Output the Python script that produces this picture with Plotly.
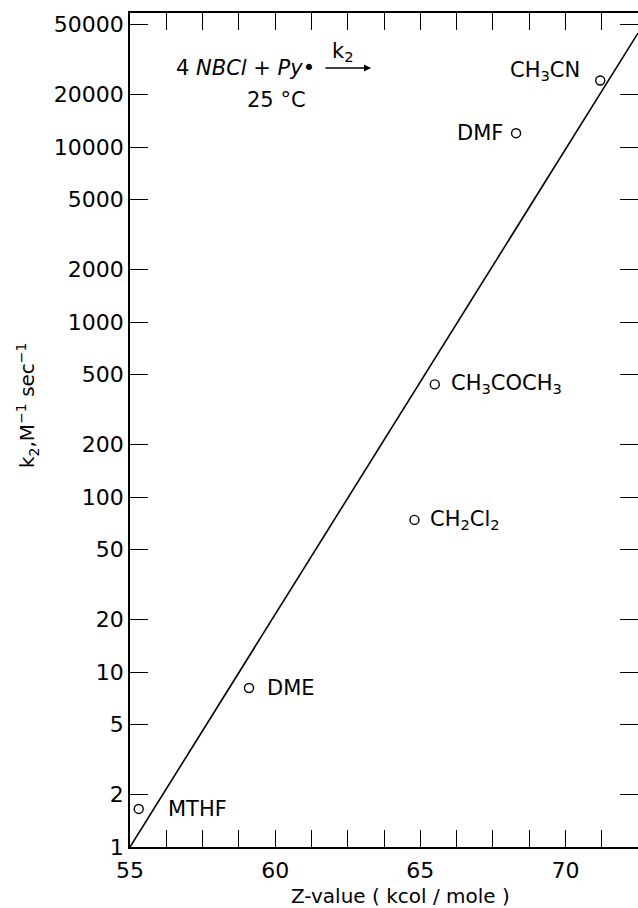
import plotly.graph_objects as go
import numpy as np

# Data
solvents = ["MTHF", "DME", "CH<sub>2</sub>Cl<sub>2</sub>", "CH<sub>3</sub>COCH<sub>3</sub>", "DMF", "CH<sub>3</sub>CN"]
z_values = [55.3, 59.1, 64.8, 65.5, 68.3, 71.2]
k2_values = [1.65, 8.1, 74, 440, 12000, 24000]

line_z = [55.0, 72.5]
line_k2 = [1.0, 44800]

y_ticks = [1, 2, 5, 10, 20, 50, 100, 200, 500, 1000, 2000, 5000, 10000, 20000, 50000]
y_labels = ["1", "2", "5", "10", "20", "50", "100", "200", "500", "1000", "2000", "5000", "10000", "20000", "50000"]
x_ticks = [55 + 1.25 * i for i in range(15)]
x_labels = ["55", "60", "65", "70"]

FONT = "DejaVu Sans"
L, R, T, B, W, H = 130, 0, 13, 61, 638, 908
PW, PH = W - L - R, H - T - B


def px(x):
    return (x - L) / PW


def py(y):
    return (H - B - y) / PH


fig = go.Figure()
fig.add_trace(go.Scatter(x=line_z, y=line_k2, mode="lines",
                         line=dict(color="black", width=1.6), showlegend=False, hoverinfo="skip"))
fig.add_trace(go.Scatter(x=z_values, y=k2_values, mode="markers",
                         marker=dict(symbol="circle-open", size=9, color="black", line=dict(width=1.4)),
                         showlegend=False))

# labels next to points: (index, x-offset px, y-offset px, anchor)
label_pos = [
    (0, 27, 0, "left"),
    (1, 16, 0, "left"),
    (2, 14, 0, "left"),
    (3, 14, 0, "left"),
    (4, -11, 0, "right"),
    (5, -18, 10, "right"),
]
for i, dx, dy, anc in label_pos:
    fig.add_annotation(x=z_values[i], y=np.log10(k2_values[i]), text=solvents[i],
                       xshift=dx, yshift=dy, xanchor=anc, yanchor="middle", showarrow=False,
                       font=dict(family=FONT, size=21, color="black"))

# reaction annotation
fig.add_annotation(xref="paper", yref="paper", x=px(174), y=py(68),
                   text="4 <i>NBCl + Py</i>•", xanchor="left", yanchor="middle", showarrow=False,
                   font=dict(family=FONT, size=21, color="black"))
fig.add_annotation(xref="paper", yref="paper", x=px(276), y=py(100),
                   text="25 °C", xanchor="center", yanchor="middle", showarrow=False,
                   font=dict(family=FONT, size=21, color="black"))
fig.add_annotation(xref="paper", yref="paper", axref="pixel", ayref="pixel",
                   x=px(371), y=py(68), ax=-47, ay=0,
                   text="", showarrow=True, arrowhead=2, arrowsize=1, arrowwidth=1.4, arrowcolor="black")
fig.add_annotation(xref="paper", yref="paper", x=px(343), y=py(52),
                   text="k<sub>2</sub>", xanchor="center", yanchor="middle", showarrow=False,
                   font=dict(family=FONT, size=21, color="black"))

# axis titles
fig.add_annotation(xref="paper", yref="paper", x=px(400), y=py(896),
                   text="Z-value ( kcol / mole )", xanchor="center", yanchor="middle", showarrow=False,
                   font=dict(family=FONT, size=20, color="black"))
fig.add_annotation(xref="paper", yref="paper", x=px(28), y=py(405),
                   text="k<sub>2</sub>,M<sup>−1</sup> sec<sup>−1</sup>", textangle=-90,
                   xanchor="center", yanchor="middle", showarrow=False,
                   font=dict(family=FONT, size=20, color="black"))

fig.update_xaxes(range=[55, 72.5], tickvals=x_ticks,
                 ticktext=[("%g" % v) if v in (55, 60, 65, 70) else "" for v in x_ticks],
                 ticks="inside", ticklen=17, tickwidth=1.4, tickcolor="black",
                 showline=True, linecolor="black", linewidth=1.6, mirror="ticks",
                 showgrid=False, zeroline=False, automargin=False, ticklabelstandoff=3,
                 tickfont=dict(family=FONT, size=22, color="black"))
fig.update_yaxes(type="log", range=[0, 4.766], tickvals=y_ticks, ticktext=y_labels,
                 ticks="inside", ticklen=18, tickwidth=1.4, tickcolor="black",
                 showline=True, linecolor="black", linewidth=1.6, mirror="ticks",
                 showgrid=False, zeroline=False, automargin=False,
                 tickfont=dict(family=FONT, size=22, color="black"))

fig.update_layout(width=W, height=H, margin=dict(l=L, r=R, t=T, b=B, autoexpand=False),
                  paper_bgcolor="white", plot_bgcolor="white")

fig.write_html("out.html", config={"displayModeBar": False},
               post_script="document.body.style.margin='0';document.body.style.overflow='hidden';")
